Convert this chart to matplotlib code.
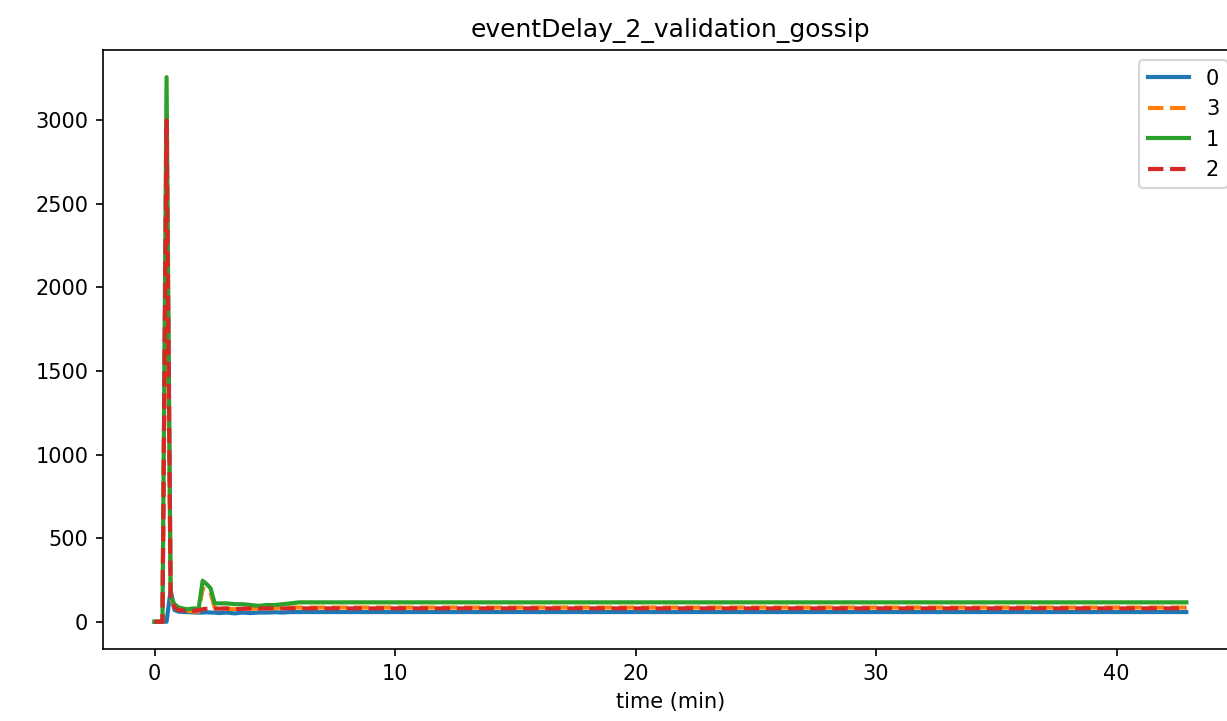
import matplotlib
matplotlib.use("Agg")
import matplotlib.pyplot as plt

title = "eventDelay_2_validation_gossip"
xlabel = "time (min)"

# shared time samples (minutes); after ~6 min all series stay flat until the end
times = [0, 0.17, 0.33, 0.5, 0.67, 0.83, 1.0, 1.33, 1.67, 1.83, 2.0, 2.17,
         2.33, 2.5, 2.67, 3.0, 3.33, 3.67, 4.0, 4.33, 4.67, 5.0, 5.33, 5.67,
         6.0, 42.9]

series_labels = ["0", "3", "1", "2"]

delay_0 = [0, 0, 0, 0, 190, 70, 60, 58, 55, 55, 55, 57, 55, 55, 52, 55, 50,
           55, 52, 55, 55, 57, 55, 58, 58, 58]
delay_3 = [0, 0, 0, 2950, 140, 90, 70, 65, 60, 62, 200, 190, 175, 85, 80, 78,
           75, 75, 78, 80, 80, 82, 85, 85, 85, 85]
delay_1 = [0, 0, 0, 3258, 150, 105, 85, 75, 80, 75, 245, 225, 200, 110, 110,
           110, 105, 105, 100, 95, 100, 100, 105, 110, 116, 116]
delay_2 = [0, 0, 0, 3000, 140, 85, 70, 65, 65, 70, 75, 78, 80, 80, 78, 80, 75,
           78, 80, 78, 80, 80, 80, 80, 80, 80]

series = [delay_0, delay_3, delay_1, delay_2]
colors = ["#1f77b4", "#ff7f0e", "#2ca02c", "#d62728"]
styles = ["-", "--", "-", "--"]

fig = plt.figure(figsize=(1227 / 150, 721 / 150), dpi=150)
ax = fig.add_axes([0.0839, 0.0999, 0.925, 0.8308])

for vals, lab, c, ls in zip(series, series_labels, colors, styles):
    ax.plot(times, vals, color=c, linestyle=ls, linewidth=2, label=lab)

ax.set_title(title)
ax.set_xlabel(xlabel)
ax.legend(loc="upper right")

fig.savefig("out.png", dpi=150)
